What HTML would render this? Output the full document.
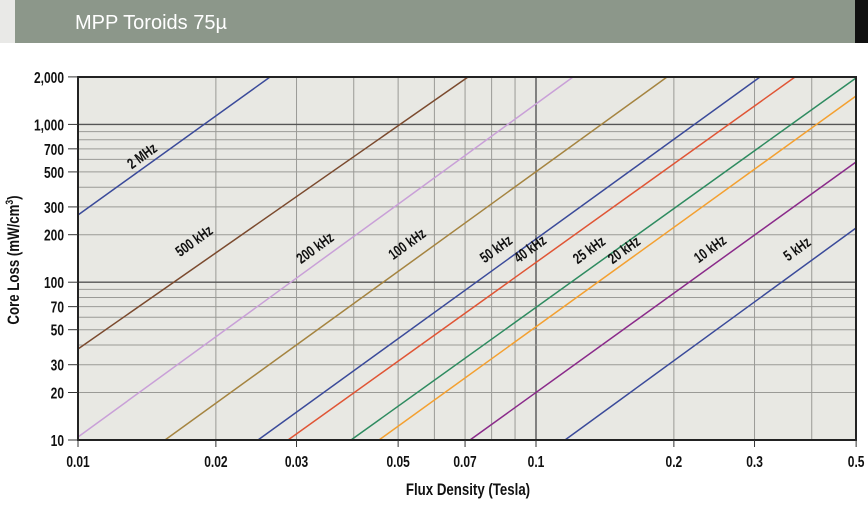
<!DOCTYPE html>
<html><head><meta charset="utf-8">
<style>
html,body{margin:0;padding:0;background:#fff;}
body{width:868px;height:500px;overflow:hidden;position:relative;font-family:"Liberation Sans",sans-serif;}
svg text{font-family:"Liberation Sans",sans-serif;font-weight:bold;}
</style></head><body>
<svg id="s" width="868" height="500" xmlns="http://www.w3.org/2000/svg">
<rect x="0" y="0" width="15" height="43" fill="#e9e9e7"/>
<rect x="15" y="0" width="840" height="43" fill="#8c978a"/>
<rect x="855" y="0" width="13" height="43" fill="#111"/>
<text x="75" y="29" fill="#fff" style="font-weight:normal" font-size="20">MPP Toroids 75µ</text>
<rect x="78" y="77" width="778" height="363" fill="#e8e8e3"/>
<g id="grid"></g>
<g id="lines"></g>
<rect x="78" y="77" width="778" height="363" fill="none" stroke="#222" stroke-width="2"/>
<g id="ticks"></g>
<g transform="translate(468,495) scale(0.78,1)"><text x="0" y="0" font-size="17" text-anchor="middle" fill="#111">Flux Density (Tesla)</text></g>
<g transform="translate(19,260) rotate(-90) scale(0.78,1)"><text x="0" y="0" font-size="17" text-anchor="middle" fill="#111">Core Loss (mW/cm<tspan font-size="11" dy="-6">3</tspan><tspan dy="6">)</tspan></text></g>
</svg>
<script>
var NS="http://www.w3.org/2000/svg";
function el(p,t,a,txt){var e=document.createElementNS(NS,t);for(var k in a)e.setAttribute(k,a[k]);if(txt)e.textContent=txt;(typeof p=="string"?document.getElementById(p):p).appendChild(e);return e;}
function ctext(p,x,y,rot,size,anchor,txt){var g=el(p,"g",{transform:"translate("+x+","+y+") rotate("+rot+") scale(0.75,1)"});el(g,"text",{x:0,y:0,"font-size":size,"text-anchor":anchor,fill:"#111"},txt);}
function X(v){return 78+Math.log10(v/0.01)*458;}
function Y(v){return 440-Math.log10(v/10)*157.8;}
var xs=[0.02,0.03,0.04,0.05,0.06,0.07,0.08,0.09,0.1,0.2,0.3,0.4];
xs.forEach(function(v){var x=X(v);el("grid","line",{x1:x,x2:x,y1:77,y2:440,stroke:v==0.1?"#555":"#9a9a96","stroke-width":v==0.1?1.4:1});});
var ys=[20,30,40,50,60,70,80,90,100,200,300,400,500,600,700,800,900,1000];
ys.forEach(function(v){var y=Y(v);var m=(v==100||v==1000);el("grid","line",{x1:78,x2:856,y1:y,y2:y,stroke:m?"#555":"#9a9a96","stroke-width":m?1.4:1});});
var L=[
["#3a4a9a",78,215,270,77,"2 MHz",145,160],
["#7b4a2e",78,349,468,77,"500 kHz",197,245],
["#c9a0d8",78,437,573,77,"200 kHz",318,252],
["#a58440",165,440,667,77,"100 kHz",410,248],
["#3a4a9a",258,440,760,77,"50 kHz",499,253],
["#e05535",288,440,795,77,"40 kHz",533,253],
["#2e8b60",351,440,856,78,"25 kHz",592,254],
["#f4a030",379,440,856,96,"20 kHz",627,254],
["#8a2a8a",470,440,856,162,"10 kHz",713,253],
["#3a4a9a",565,440,856,228,"5 kHz",800,253]];
L.forEach(function(l){el("lines","line",{x1:l[1],y1:l[2],x2:l[3],y2:l[4],stroke:l[0],"stroke-width":1.5});
ctext("lines",l[6],l[7],-36,15,"middle",l[5]);});
[[10,"10"],[20,"20"],[30,"30"],[50,"50"],[70,"70"],[100,"100"],[200,"200"],[300,"300"],[500,"500"],[700,"700"],[1000,"1,000"],[2000,"2,000"]].forEach(function(t){var y=Y(t[0]);
el("ticks","line",{x1:68,x2:78,y1:y,y2:y,stroke:"#333","stroke-width":1});
ctext("ticks",64,y+6,0,16,"end",t[1]);});
[[0.01,"0.01"],[0.02,"0.02"],[0.03,"0.03"],[0.05,"0.05"],[0.07,"0.07"],[0.1,"0.1"],[0.2,"0.2"],[0.3,"0.3"],[0.5,"0.5"]].forEach(function(t){var x=X(t[0]);
el("ticks","line",{x1:x,x2:x,y1:440,y2:447,stroke:"#333","stroke-width":1});
ctext("ticks",x,467,0,16,"middle",t[1]);});
</script>
</body></html>
